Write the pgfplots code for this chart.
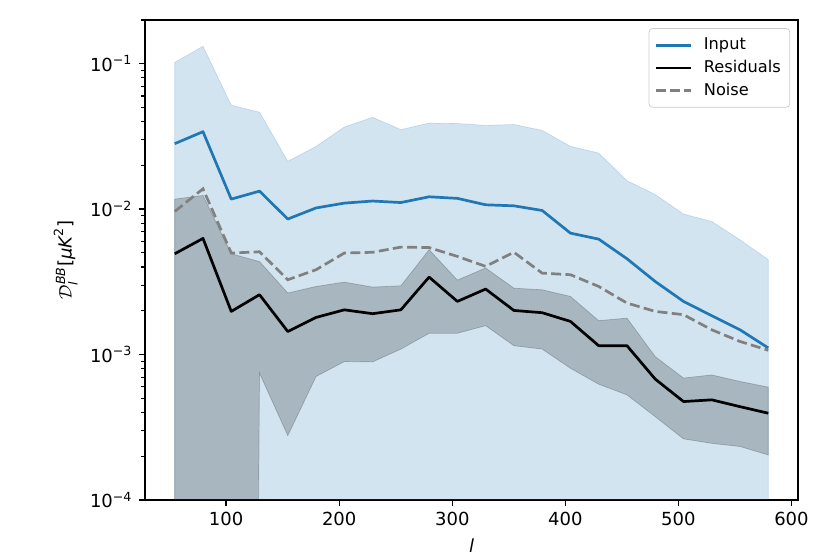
\documentclass[border=0pt]{standalone}
\usepackage{amsmath}
\usepackage{pgfplots}
\pgfplotsset{compat=1.18}
\usepackage{pgfplotstable}
\usepgfplotslibrary{fillbetween}
\usepackage{fontspec}
\setmainfont{DejaVu Sans}
\definecolor{tabblue}{HTML}{1F77B4}

% band values below the axis are stored as 1e-30 (clipped, like matplotlib)
\pgfplotstableread{
l      inp     inpup   inplo  res       resup    reslo     noise
54.5   0.0282  0.102   1e-30  0.00493   0.01172  1e-30     0.00964
79.5   0.0341  0.132   1e-30  0.00629   0.01242  1e-30     0.0138
104.5  0.01172 0.0518  1e-30  0.00198   0.00493  1e-30     0.00499
129.5  0.0133  0.0464  1e-30  0.00258   0.00436  0.000745  0.00509
154.5  0.00855 0.0213  1e-30  0.00144   0.00265  0.000277  0.00327
179.5  0.01019 0.0270  1e-30  0.00180   0.00294  0.000706  0.00383
204.5  0.0110  0.0367  1e-30  0.00203   0.00315  0.000895  0.00499
229.5  0.01137 0.0428  1e-30  0.00191   0.00291  0.00089   0.00505
254.5  0.0111  0.0352  1e-30  0.00203   0.00297  0.00109   0.00548
279.5  0.01216 0.0391  1e-30  0.00341   0.00526  0.00140   0.00544
304.5  0.01186 0.0388  1e-30  0.00232   0.00325  0.00140   0.00473
329.5  0.01071 0.0377  1e-30  0.00282   0.00394  0.00158   0.00404
354.5  0.01054 0.0382  1e-30  0.00201   0.00286  0.00115   0.00505
379.5  0.00979 0.0348  1e-30  0.00194   0.00279  0.00109   0.00363
404.5  0.00684 0.0270  1e-30  0.00169   0.00251  0.000805  0.00354
429.5  0.00622 0.0243  1e-30  0.00115   0.00171  0.000625  0.00294
454.5  0.00456 0.0157  1e-30  0.00115   0.00178  0.000528  0.00226
479.5  0.00318 0.0126  1e-30  0.000678  0.000968 0.000374  0.00198
504.5  0.00232 0.00925 1e-30  0.000475  0.000689 0.000263  0.00188
529.5  0.00185 0.00822 1e-30  0.000488  0.000724 0.000245  0.00148
554.5  0.00148 0.00615 1e-30  0.000438  0.000653 0.000233  0.00123
579.5  0.00111 0.00449 1e-30  0.000395  0.000597 0.000204  0.00107
}\spectra

\begin{document}
\begin{tikzpicture}
\begin{axis}[
    at={(0,0)}, anchor=south west,
    width=362.8pt, height=266.7pt, scale only axis,
    xmin=28.25, xmax=605.75,
    ymin=1e-4, ymax=0.2,
    ymode=log,
    xtick={100,200,300,400,500,600},
    ytick={1e-4,1e-3,1e-2,1e-1},
    yticklabels={{10\textsuperscript{−4}},{10\textsuperscript{−3}},{10\textsuperscript{−2}},{10\textsuperscript{−1}}},
    minor ytick={2e-4,3e-4,4e-4,5e-4,6e-4,7e-4,8e-4,9e-4,
                 2e-3,3e-3,4e-3,5e-3,6e-3,7e-3,8e-3,9e-3,
                 2e-2,3e-2,4e-2,5e-2,6e-2,7e-2,8e-2,9e-2,2e-1},
    tick align=outside, tick pos=left,
    major tick length=3.5pt, minor tick length=2pt,
    major tick style={black, line width=0.8pt},
    minor tick style={black, line width=0.6pt},
    axis line style={line width=0.8pt},
    /pgf/number format/assume math mode=true,
    xlabel={\textit{l}},
    ylabel={$\mathcal{D}_{\textit{l}}^{\textit{BB}}\text{[}\textit{μK}^{\text{2}}\text{]}$},
    legend style={at={(0.988,0.983)}, anchor=north east,
        draw=black!20, rounded corners=2pt, fill=white, fill opacity=0.8,
        text opacity=1, inner xsep=3pt, inner ysep=3pt,
        row sep=0pt, font=\fontsize{9}{11}\selectfont,
        nodes={text height=6.8pt, text depth=1.8pt, inner ysep=2pt}},
    legend cell align=left,
    legend image code/.code={\draw[#1] (0pt,0pt) -- (19.5pt,0pt); \path (24pt,0pt);},
]

\addplot[name path=iu, draw=none, forget plot] table[x=l, y=inpup]{\spectra};
\addplot[name path=il, draw=none, forget plot] table[x=l, y=inplo]{\spectra};
\addplot[fill=tabblue, fill opacity=0.2, draw=tabblue, draw opacity=0.2, forget plot]
    fill between[of=iu and il];

\addplot[name path=ru, draw=none, forget plot] table[x=l, y=resup]{\spectra};
\addplot[name path=rl, draw=none, forget plot] table[x=l, y=reslo]{\spectra};
\addplot[fill=black, fill opacity=0.2, draw=black, draw opacity=0.2, forget plot]
    fill between[of=ru and rl];

\addplot[tabblue, line width=1.5pt, line join=round] table[x=l, y=inp]{\spectra};
\addlegendentry{Input}
\addplot[black, line width=1.5pt, line join=round] table[x=l, y=res]{\spectra};
\addlegendentry{Residuals}
\addplot[gray, line width=1.5pt, dash pattern=on 5.55pt off 2.4pt] table[x=l, y=noise]{\spectra};
\addlegendentry{Noise}

\end{axis}
\pgfresetboundingbox
\path[use as bounding box] (-80.6pt,-30pt) rectangle (380.6pt,277.8pt);
\end{tikzpicture}
\end{document}
